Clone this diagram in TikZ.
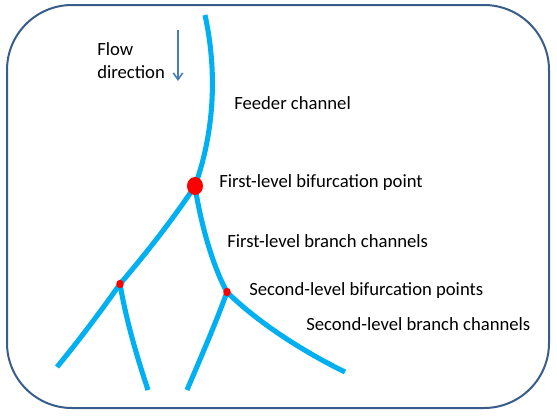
\documentclass[tikz,border=0pt]{standalone}
\usepackage{fontspec}
\setmainfont{Carlito}
\usetikzlibrary{shapes.geometric,arrows.meta}
\definecolor{chancol}{HTML}{00B0F0}
\definecolor{framecol}{HTML}{385D8A}
\definecolor{flowcol}{HTML}{4A7EBB}

\begin{document}
\begin{tikzpicture}[x=0.75pt,y=-0.75pt,
  channel/.style={draw=chancol, line width=3.8pt},
  bigdot/.style={ellipse, fill=red, inner sep=0pt, minimum width=12pt, minimum height=13.5pt},
  smalldot/.style={ellipse, fill=red, inner sep=0pt, minimum width=5.6pt, minimum height=6.5pt},
  lbl/.style={anchor=base west, inner sep=0pt, font=\fontsize{14}{17.25}\selectfont}]
\useasboundingbox (0,0) rectangle (557,415);
\draw[framecol, line width=1.5pt, rounded corners=48.75pt] (7,5) rectangle (549,408);
% junctions and free ends
\coordinate (top) at (205,15);
\coordinate (b1) at (195,186);
\coordinate (b2) at (120,284);
\coordinate (b3) at (227,292);
\coordinate (e1) at (57,367);
\coordinate (e2) at (148,390);
\coordinate (e3) at (187,390);
\coordinate (e4) at (345,372);
% channels
\draw[channel] (top) .. controls (217,70) and (215,130) .. (b1);
\draw[channel] (b1) .. controls (173,219) and (148,251) .. (b2);
\draw[channel] (b1) .. controls (200,220) and (212,265) .. (b3);
\draw[channel] (b2) .. controls (101,311) and (80,339) .. (e1);
\draw[channel] (b2) .. controls (126,319) and (136,354) .. (e2);
\draw[channel] (b3) .. controls (215,325) and (201,357) .. (e3);
\draw[channel] (b3) .. controls (255,320) and (300,350) .. (e4);
% bifurcation points
\node[bigdot] (b1dot) at (b1) {};
\node[smalldot] (b2dot) at (b2) {};
\node[smalldot] (b3dot) at (b3) {};
% flow direction
\coordinate (flowtop) at (178,30);
\coordinate (flowtip) at (178,81);
\draw[-{Straight Barb[length=5pt,width=7pt]}, flowcol, line width=1.2pt] (flowtop) -- (flowtip);
\node[lbl, align=left] (flow) at (97,78) {Flow\\direction};
% labels
\node[lbl] (feeder) at (234,109) {Feeder channel};
\node[lbl] (firstpt) at (219,187) {First-level bifurcation point};
\node[lbl] (firstch) at (227,247) {First-level branch channels};
\node[lbl] (secondpt) at (249,295) {Second-level bifurcation points};
\node[lbl] (secondch) at (306,330) {Second-level branch channels};
\end{tikzpicture}
\end{document}
